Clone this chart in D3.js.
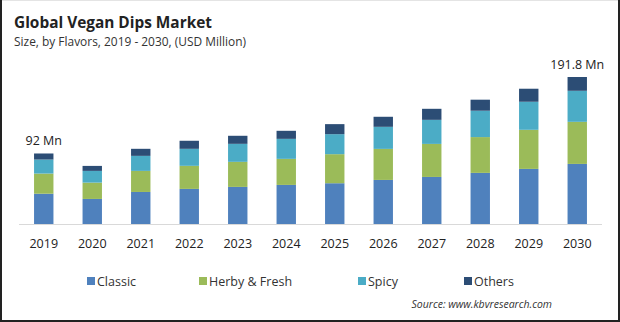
<!DOCTYPE html>
<html>
<head>
<meta charset="utf-8">
<script src="https://cdn.jsdelivr.net/npm/d3@7"></script>
<style>
  html, body { margin: 0; padding: 0; background: #fff; }
  svg { display: block; font-family: "Open Sans", "Noto Sans", sans-serif; }
</style>
</head>
<body>
<svg id="chart" width="620" height="322"></svg>
<script>
const years = ["2019","2020","2021","2022","2023","2024","2025","2026","2027","2028","2029","2030"];
const classic = [39.5, 32.7, 41.8, 45.8, 48.4, 51.0, 53.2, 57.5, 61.4, 66.7, 71.9, 78.4];
const herby   = [26.3, 21.3, 27.5, 30.1, 32.7, 34.0, 37.9, 40.5, 43.1, 46.7, 51.0, 54.9];
const spicy   = [18.3, 15.3, 19.6, 22.2, 23.5, 26.1, 26.1, 28.8, 31.4, 34.4, 36.6, 40.5];
const others  = [ 7.9,  6.5,  9.2, 10.5, 10.5, 10.5, 13.1, 13.1, 14.4, 14.4, 17.0, 18.0];
const seriesNames = ["Classic", "Herby & Fresh", "Spicy", "Others"];
const seriesColors = ["#4f81bd", "#9bbb59", "#4bacc6", "#2c4d75"];
const annotations = [{year: "2019", text: "92 Mn"}, {year: "2030", text: "191.8 Mn"}];

const svg = d3.select("#chart");
const W = 620, H = 322;

// frame
svg.append("rect").attr("x", 0.5).attr("y", 0.5).attr("width", W - 2).attr("height", H - 2)
  .attr("fill", "none").attr("stroke", "#e4e4e4").attr("stroke-width", 1);
svg.append("path").attr("d", `M1,0 V${H-1} H${W-1} V0`)
  .attr("fill", "none").attr("stroke", "#222").attr("stroke-width", 2);

// titles
svg.append("text").attr("x", 14).attr("y", 28).text("Global Vegan Dips Market")
  .attr("font-size", 16.5).attr("font-weight", "bold").attr("fill", "#222")
  .attr("textLength", 198).attr("lengthAdjust", "spacingAndGlyphs");
svg.append("text").attr("x", 14).attr("y", 46).text("Size, by Flavors, 2019 - 2030, (USD Million)")
  .attr("font-size", 12).attr("fill", "#333")
  .attr("textLength", 232).attr("lengthAdjust", "spacingAndGlyphs");

const data = years.map((y, i) => ({year: y, Classic: classic[i], "Herby & Fresh": herby[i], Spicy: spicy[i], Others: others[i]}));
const stack = d3.stack().keys(seriesNames)(data);

const x = d3.scaleBand().domain(years).range([19.5, 601.5]).paddingInner(0.6).paddingOuter(0.3);
const y = d3.scaleLinear().domain([0, 191.8]).range([224, 77]);

const g = svg.append("g");
g.selectAll("g.series").data(stack).join("g")
  .attr("fill", (d, i) => seriesColors[i])
  .selectAll("rect").data(d => d).join("rect")
  .attr("x", d => x(d.data.year))
  .attr("width", x.bandwidth())
  .attr("y", d => y(d[1]))
  .attr("height", d => y(d[0]) - y(d[1]));

// axis
const xAxis = d3.axisBottom(x).tickSize(0).tickPadding(15);
const ax = svg.append("g").attr("transform", "translate(0,224)").call(xAxis);
ax.select(".domain").attr("stroke", "#d9d9d9").attr("d", "M19,0.5H602");
ax.selectAll("text").attr("font-size", 12.5).attr("fill", "#222").attr("font-family", "Open Sans, sans-serif");

// annotations
annotations.forEach(a => {
  const i = years.indexOf(a.year);
  const total = classic[i] + herby[i] + spicy[i] + others[i];
  svg.append("text")
    .attr("x", x(a.year) + x.bandwidth() / 2)
    .attr("y", y(total) - 8)
    .attr("text-anchor", "middle")
    .attr("font-size", 12.5).attr("fill", "#222")
    .text(a.text);
});

// legend
const legendX = [87, 199, 358, 464];
const lg = svg.append("g");
seriesNames.forEach((s, i) => {
  lg.append("rect").attr("x", legendX[i]).attr("y", 277).attr("width", 8).attr("height", 8).attr("fill", seriesColors[i]);
  lg.append("text").attr("x", legendX[i] + 10).attr("y", 285.5).attr("font-size", 12.5).attr("fill", "#333").text(s);
});

// source
svg.append("text").attr("x", 552).attr("y", 308).attr("text-anchor", "end")
  .attr("font-size", 10.5).attr("font-style", "italic").attr("fill", "#333")
  .text("Source: www.kbvresearch.com");
</script>
</body>
</html>
